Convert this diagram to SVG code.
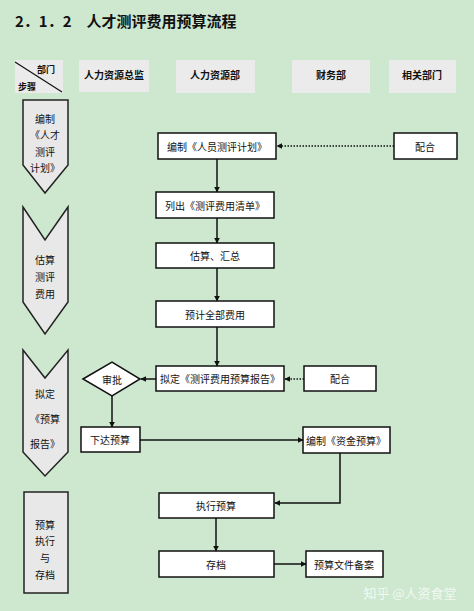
<svg xmlns="http://www.w3.org/2000/svg" width="474" height="611" viewBox="0 0 474 611">
<style>
text{font-family:"Noto Sans CJK SC","Liberation Sans",sans-serif;fill:#111;}
.t{font-size:10px;text-anchor:middle;dominant-baseline:central;}
.box{fill:#fff;stroke:#111;stroke-width:1.5;}
.hdr{fill:#ebebeb;stroke:none;}
.stage{fill:#e8e8e8;stroke:#222;stroke-width:1.5;}
.ln{fill:none;stroke:#111;stroke-width:1.5;}
.dot{fill:none;stroke:#111;stroke-width:1.5;stroke-dasharray:1.5 1.5;}
</style>
<defs>
<marker id="ah" viewBox="0 0 10 10" refX="9" refY="5" markerWidth="6" markerHeight="6" markerUnits="userSpaceOnUse" orient="auto">
<path d="M0,0L10,5L0,10z" fill="#111"/>
</marker>
</defs>
<rect width="474" height="611" fill="#cde8cf"/>
<text x="15" y="27" style="font-size:15px;font-weight:bold;font-family:'Noto Sans CJK SC',sans-serif">2．1．2　人才测评费用预算流程</text>

<g id="header">
<rect class="hdr" x="15" y="60" width="48" height="33"/>
<line x1="15" y1="62" x2="62" y2="92" stroke="#111" stroke-width="1.2"/>
<text x="46" y="69" class="t" style="font-size:9px;font-weight:bold">部门</text>
<text x="27" y="86" class="t" style="font-size:9px;font-weight:bold">步骤</text>
<rect class="hdr" x="79" y="60" width="70" height="32"/>
<text x="114" y="74" class="t" style="font-weight:bold">人力资源总监</text>
<rect class="hdr" x="176" y="60" width="79" height="33"/>
<text x="215" y="74" class="t" style="font-weight:bold">人力资源部</text>
<rect class="hdr" x="292" y="60" width="78" height="33"/>
<text x="331" y="74" class="t" style="font-weight:bold">财务部</text>
<rect class="hdr" x="389" y="60" width="67" height="33"/>
<text x="422" y="74" class="t" style="font-weight:bold">相关部门</text>
</g>

<g id="stage1">
<path class="stage" d="M23,100H68V165L45,193L23,165Z"/>
<text x="45" y="118" class="t">编制</text>
<text x="45" y="134" class="t">《人才</text>
<text x="45" y="151" class="t">测评</text>
<text x="45" y="167" class="t">计划》</text>
</g>
<g id="stage2">
<path class="stage" d="M23,207L45,240L68,207V302L45,334L23,302Z"/>
<text x="45" y="259" class="t">估算</text>
<text x="45" y="276" class="t">测评</text>
<text x="45" y="293" class="t">费用</text>
</g>
<g id="stage3">
<path class="stage" d="M23,350L45,378L68,350V452L45,476L23,452Z"/>
<text x="45" y="393" class="t">拟定</text>
<text x="45" y="418" class="t">《预算</text>
<text x="45" y="443" class="t">报告》</text>
</g>
<g id="stage4">
<rect class="stage" x="24" y="492" width="44" height="101"/>
<text x="45" y="524" class="t">预算</text>
<text x="45" y="540" class="t">执行</text>
<text x="45" y="557" class="t">与</text>
<text x="45" y="574" class="t">存档</text>
</g>

<g id="n1"><rect class="box" x="158" y="133" width="118" height="26"/><text x="217" y="146" class="t">编制《人员测评计划》</text></g>
<g id="n2"><rect class="box" x="394" y="133" width="63" height="26"/><text x="425" y="146" class="t">配合</text></g>
<g id="n3"><rect class="box" x="156" y="192" width="118" height="26"/><text x="215" y="205" class="t">列出《测评费用清单》</text></g>
<g id="n4"><rect class="box" x="156" y="243" width="118" height="25"/><text x="215" y="255" class="t">估算、汇总</text></g>
<g id="n5"><rect class="box" x="156" y="301" width="118" height="26"/><text x="215" y="314" class="t">预计全部费用</text></g>
<g id="n6"><rect class="box" x="156" y="366" width="128" height="25"/><text x="220" y="378" class="t">拟定《测评费用预算报告》</text></g>
<g id="n7"><rect class="box" x="304" y="366" width="72" height="25"/><text x="340" y="378" class="t">配合</text></g>
<g id="n8"><path class="box" d="M83,379L112,362L140,379L112,396Z"/><text x="112" y="379" class="t">审批</text></g>
<g id="n9"><rect class="box" x="81" y="427" width="59" height="25"/><text x="110" y="439" class="t">下达预算</text></g>
<g id="n10"><rect class="box" x="303" y="427" width="87" height="26"/><text x="346" y="440" class="t">编制《资金预算》</text></g>
<g id="n11"><rect class="box" x="159" y="493" width="115" height="25"/><text x="216" y="505" class="t">执行预算</text></g>
<g id="n12"><rect class="box" x="159" y="551" width="115" height="26"/><text x="216" y="564" class="t">存档</text></g>
<g id="n13"><rect class="box" x="306" y="551" width="77" height="26"/><text x="344" y="564" class="t">预算文件备案</text></g>

<g id="connectors">
<line class="dot" x1="394" y1="146" x2="277" y2="146" marker-end="url(#ah)"/>
<line class="ln" x1="217" y1="159" x2="217" y2="192" marker-end="url(#ah)"/>
<line class="ln" x1="217" y1="218" x2="217" y2="243" marker-end="url(#ah)"/>
<line class="ln" x1="217" y1="268" x2="217" y2="301" marker-end="url(#ah)"/>
<line class="ln" x1="217" y1="327" x2="217" y2="366" marker-end="url(#ah)"/>
<line class="dot" x1="304" y1="379" x2="285" y2="379" marker-end="url(#ah)"/>
<line class="ln" x1="156" y1="379" x2="141" y2="379" marker-end="url(#ah)"/>
<line class="ln" x1="112" y1="396" x2="112" y2="427" marker-end="url(#ah)"/>
<line class="ln" x1="140" y1="440" x2="303" y2="440" marker-end="url(#ah)"/>
<polyline class="ln" points="340,453 340,503 275,503" marker-end="url(#ah)"/>
<line class="ln" x1="216" y1="518" x2="216" y2="551" marker-end="url(#ah)"/>
<line class="ln" x1="274" y1="564" x2="306" y2="564" marker-end="url(#ah)"/>
</g>

<text x="410" y="592" style="font-size:13px;text-anchor:middle;dominant-baseline:central;fill:#ffffff;fill-opacity:0.75">知乎 @人资食堂</text>
</svg>
